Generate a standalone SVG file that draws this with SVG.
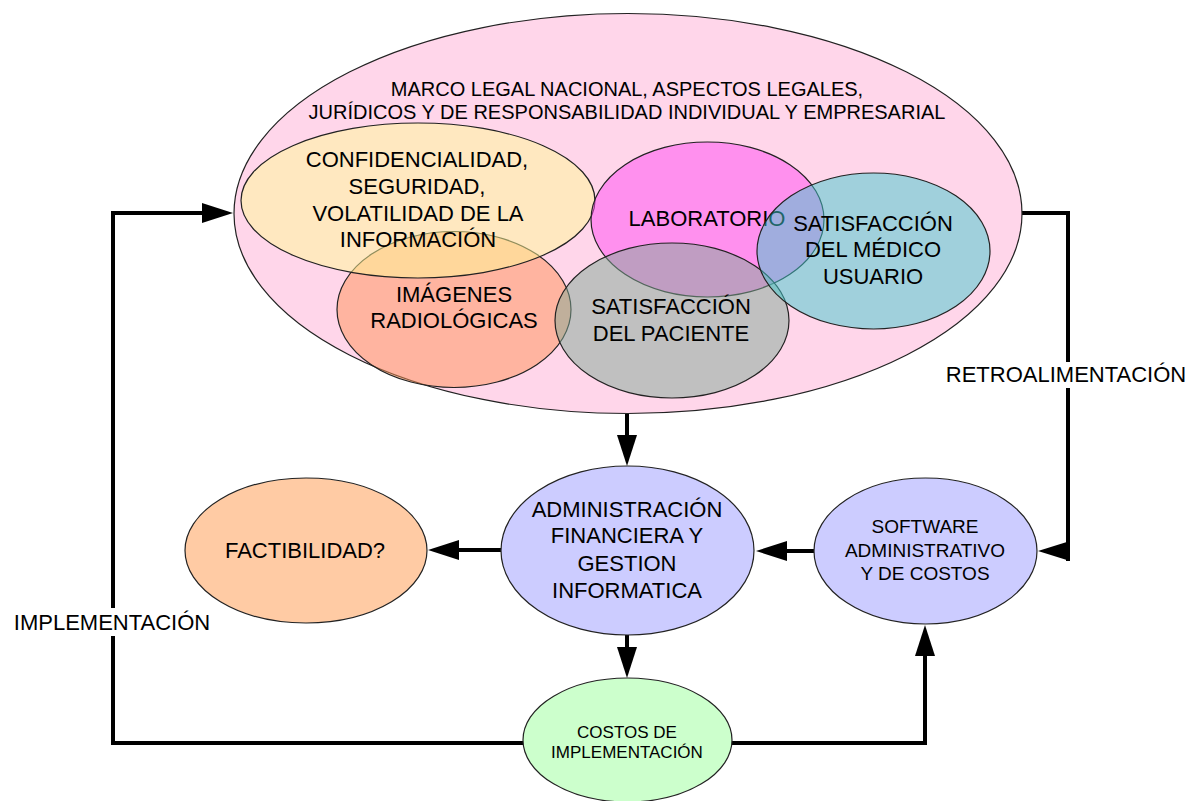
<svg xmlns="http://www.w3.org/2000/svg" width="1198" height="801" viewBox="0 0 1198 801">
  <style>
    .node { stroke: #222; stroke-width: 1.2; }
    .ov { fill-opacity: 0.5; }
    .t { font-family: "Liberation Sans", Arial, sans-serif; fill: #000; text-anchor: middle; }
    .t22 { font-size: 22px; }
    .t20 { font-size: 20px; }
    .t19 { font-size: 19px; }
    .t17 { font-size: 17px; }
    .wire { fill: none; stroke: #000; stroke-width: 4; }
    .head { fill: #000; }
  </style>
  <defs>
    <marker id="arrow" markerUnits="userSpaceOnUse" markerWidth="32" markerHeight="22" refX="0" refY="10" orient="auto" overflow="visible">
      <path d="M0,0 L31,10 L0,20 z" fill="#000"/>
    </marker>
  </defs>
  <rect width="1198" height="801" fill="#fff"/>

  <!-- connectors -->
  <g id="connectors">
    <!-- implementation loop back to the legal frame -->
    <path class="wire" d="M523,743 H113 V213 H202" marker-end="url(#arrow)"/>
    <!-- costs to software -->
    <path class="wire" d="M732,743 H925 V656" marker-end="url(#arrow)"/>
    <!-- feedback from legal frame to software -->
    <path class="wire" d="M1022,213 H1068 V561"/>
    <polygon class="head" points="1038,551 1070,541 1070,561"/>
    <!-- legal frame to administration -->
    <path class="wire" d="M627,414 V435" marker-end="url(#arrow)"/>
    <!-- administration to costs -->
    <path class="wire" d="M627,635 V647" marker-end="url(#arrow)"/>
    <!-- software to administration -->
    <path class="wire" d="M814,551 H787" marker-end="url(#arrow)"/>
    <!-- administration to feasibility -->
    <path class="wire" d="M501,550 H459" marker-end="url(#arrow)"/>
  </g>

  <!-- labels on the loops -->
  <g id="loop-labels">
    <rect x="938" y="362" width="256" height="26" fill="#fff"/>
    <text class="t t22" x="1066" y="382">RETROALIMENTACIÓN</text>
    <rect x="8" y="608" width="208" height="28" fill="#fff"/>
    <text class="t t22" x="112" y="630">IMPLEMENTACIÓN</text>
  </g>

  <!-- legal frame -->
  <g id="marco-legal">
    <ellipse class="node" cx="628" cy="213.5" rx="394" ry="200" fill="#FFD6EA"/>
    <text class="t t20" x="627" y="96">MARCO LEGAL NACIONAL, ASPECTOS LEGALES,</text>
    <text class="t t20" x="627" y="119">JURÍDICOS Y DE RESPONSABILIDAD INDIVIDUAL Y EMPRESARIAL</text>
  </g>

  <!-- overlapping sets, drawn back to front -->
  <g id="imagenes">
    <ellipse class="node ov" cx="454" cy="309.5" rx="117" ry="78" fill="#FF9256"/>
    <text class="t t22" x="454" y="302">IMÁGENES</text>
    <text class="t t22" x="454" y="328">RADIOLÓGICAS</text>
  </g>
  <g id="confidencialidad">
    <ellipse class="node ov" cx="418" cy="200.5" rx="177" ry="77.5" fill="#FFFA96"/>
    <text class="t t22" x="417" y="167">CONFIDENCIALIDAD,</text>
    <text class="t t22" x="417" y="194">SEGURIDAD,</text>
    <text class="t t22" x="418" y="221">VOLATILIDAD DE LA</text>
    <text class="t t22" x="418" y="247">INFORMACIÓN</text>
  </g>
  <g id="laboratorio">
    <ellipse class="node ov" cx="707.5" cy="219.5" rx="116.5" ry="77.5" fill="#FF4AF2"/>
    <text class="t t22" x="707" y="226">LABORATORIO</text>
  </g>
  <g id="satisfaccion-paciente">
    <ellipse class="node ov" cx="672" cy="320.5" rx="117" ry="77.5" fill="#81AA96"/>
    <text class="t t22" x="671" y="314">SATISFACCIÓN</text>
    <text class="t t22" x="671" y="341">DEL PACIENTE</text>
  </g>
  <g id="satisfaccion-medico">
    <ellipse class="node ov" cx="873.5" cy="251" rx="116.5" ry="78" fill="#41CACE"/>
    <text class="t t22" x="873" y="231">SATISFACCIÓN</text>
    <text class="t t22" x="873" y="257">DEL MÉDICO</text>
    <text class="t t22" x="873" y="284">USUARIO</text>
  </g>

  <g id="administracion">
    <ellipse class="node" cx="627.5" cy="550.5" rx="126.5" ry="84.5" fill="#CCCCFF"/>
    <text class="t t22" x="627" y="517">ADMINISTRACIÓN</text>
    <text class="t t22" x="627" y="543">FINANCIERA Y</text>
    <text class="t t22" x="627" y="571">GESTION</text>
    <text class="t t22" x="627" y="598">INFORMATICA</text>
  </g>

  <g id="factibilidad">
    <ellipse class="node" cx="306" cy="550.5" rx="121" ry="72.5" fill="#FFCBA4"/>
    <text class="t t22" x="305" y="558">FACTIBILIDAD?</text>
  </g>

  <g id="software">
    <ellipse class="node" cx="925.5" cy="551" rx="111.5" ry="73" fill="#CCCCFF"/>
    <text class="t t19" x="925" y="533">SOFTWARE</text>
    <text class="t t19" x="925" y="557">ADMINISTRATIVO</text>
    <text class="t t19" x="925" y="580">Y DE COSTOS</text>
  </g>

  <g id="costos">
    <ellipse class="node" cx="627.5" cy="740" rx="104.5" ry="62" fill="#CCFFCC"/>
    <text class="t t17" x="627" y="738">COSTOS DE</text>
    <text class="t t17" x="627" y="758">IMPLEMENTACIÓN</text>
  </g>
</svg>
